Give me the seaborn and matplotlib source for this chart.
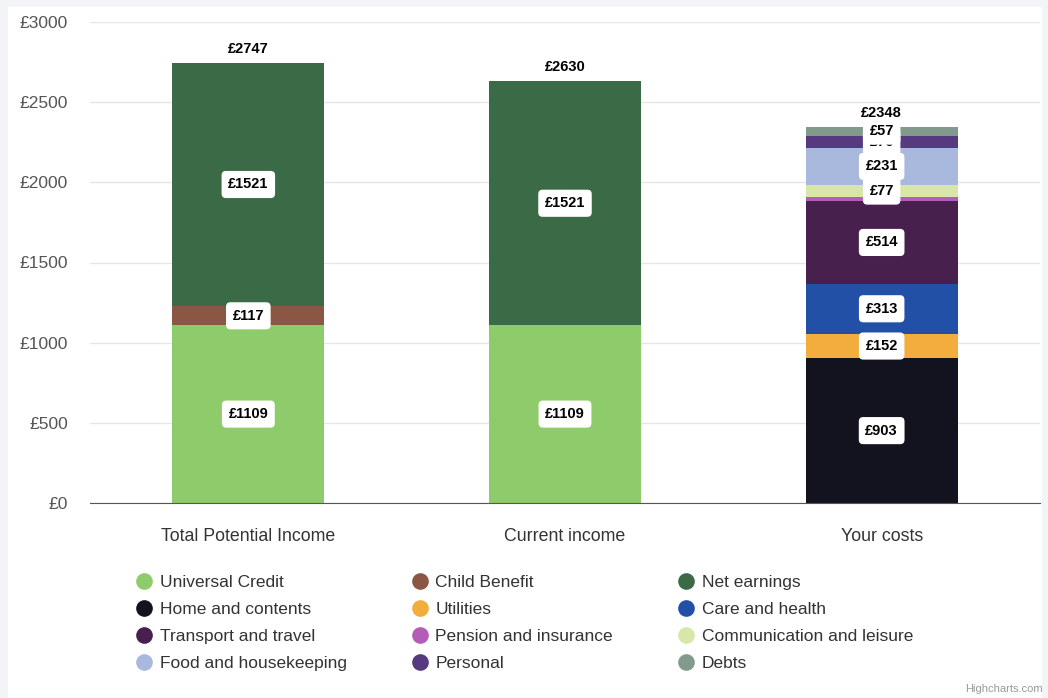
import numpy as np
import matplotlib
matplotlib.use("Agg")
import matplotlib.pyplot as plt
from matplotlib.lines import Line2D
from matplotlib.patches import Rectangle
import seaborn as sns

categories = ["Total Potential Income", "Current income", "Your costs"]

series_names = ["Universal Credit", "Child Benefit", "Net earnings",
                "Home and contents", "Utilities", "Care and health",
                "Transport and travel", "Pension and insurance", "Communication and leisure",
                "Food and housekeeping", "Personal", "Debts"]

universal_credit = [1109, 1109, 0]
child_benefit = [117, 0, 0]
net_earnings = [1521, 1521, 0]
home_and_contents = [0, 0, 903]
utilities = [0, 0, 152]
care_and_health = [0, 0, 313]
transport_and_travel = [0, 0, 514]
pension_and_insurance = [0, 0, 25]
communication_and_leisure = [0, 0, 77]
food_and_housekeeping = [0, 0, 231]
personal = [0, 0, 76]
debts = [0, 0, 57]

series_values = [universal_credit, child_benefit, net_earnings,
                 home_and_contents, utilities, care_and_health,
                 transport_and_travel, pension_and_insurance, communication_and_leisure,
                 food_and_housekeeping, personal, debts]

series_colors = ["#8ecb6a", "#8b5744", "#3b6b46",
                 "#13121f", "#f2ad3d", "#2250a6",
                 "#47204d", "#b35db8", "#d8e6a8",
                 "#a8b9dd", "#553a80", "#829a8e"]

# labels highcharts hides because they overlap others
hidden_labels = ["Pension and insurance"]
low_labels = ["Personal"]

sns.set_style("white")
plt.rcParams["font.family"] = ["Liberation Sans", "DejaVu Sans"]

fig = plt.figure(figsize=(10.48, 6.98), dpi=100)
fig.patch.set_facecolor("#f3f4f7")
fig.patches.append(Rectangle((8 / 1048, 0), 1034 / 1048, 691 / 698,
                             transform=fig.transFigure, facecolor="white",
                             edgecolor="none", zorder=-5))
ax = fig.add_axes([90 / 1048, 1 - 503 / 698, 950 / 1048, 481 / 698])
ax.set_zorder(2)
ax.set_facecolor("white")

bottom = np.zeros(len(categories))
for name, vals, col in zip(series_names, series_values, series_colors):
    vals = np.array(vals, dtype=float)
    sns.barplot(x=categories, y=vals, bottom=bottom, color=col, width=0.48,
                ax=ax, saturation=1, linewidth=0, zorder=2)
    if name not in hidden_labels:
        for i, v in enumerate(vals):
            if v <= 0:
                continue
            ax.text(i, bottom[i] + v / 2, f"£{int(v)}", ha="center", va="center",
                    fontsize=10.5, fontweight="bold", color="black",
                    zorder=3 if name in low_labels else 4,
                    bbox=dict(boxstyle="round,pad=0.45,rounding_size=0.3",
                              facecolor="white", edgecolor="none"))
    bottom = bottom + vals

for i, total in enumerate(bottom):
    ax.annotate(f"£{int(total)}", (i, total), xytext=(0, 5), textcoords="offset points",
                ha="center", va="bottom", fontsize=10.5, fontweight="bold", color="black")

ax.set_ylim(0, 3000)
ax.set_xlim(-0.5, 2.5)
ax.set_yticks(np.arange(0, 3001, 500))
ax.set_yticklabels([f"£{t}" for t in range(0, 3001, 500)])
ax.yaxis.grid(True, color="#e6e6e6", linewidth=1)
ax.set_axisbelow(True)
for s in ["top", "right", "left"]:
    ax.spines[s].set_visible(False)
ax.spines["bottom"].set_color("#555555")
ax.tick_params(axis="y", labelsize=12.5, labelcolor="#555555", length=0, pad=16)
ax.tick_params(axis="x", labelsize=12.8, labelcolor="#333333", length=0, pad=18)
ax.set_xlabel("")
ax.set_ylabel("")

# legend, row-major like highcharts
order = [r * 3 + c for c in range(3) for r in range(4)]
handles = [Line2D([], [], marker="o", linestyle="", markersize=12,
                  markerfacecolor=series_colors[k], markeredgecolor="none",
                  label=series_names[k]) for k in order]
fig.legend(handles=handles, ncol=3, loc="upper left",
           bbox_to_anchor=(119 / 1048, 1 - 559 / 698), frameon=False,
           fontsize=12.5, labelcolor="#333333", handletextpad=0.35,
           columnspacing=3.65, labelspacing=0.68, handlelength=1.1)

fig.text(1043 / 1048, 1 - 694 / 698, "Highcharts.com", ha="right", va="bottom",
         fontsize=8, color="#999999")

fig.savefig("out.png", dpi=100)
